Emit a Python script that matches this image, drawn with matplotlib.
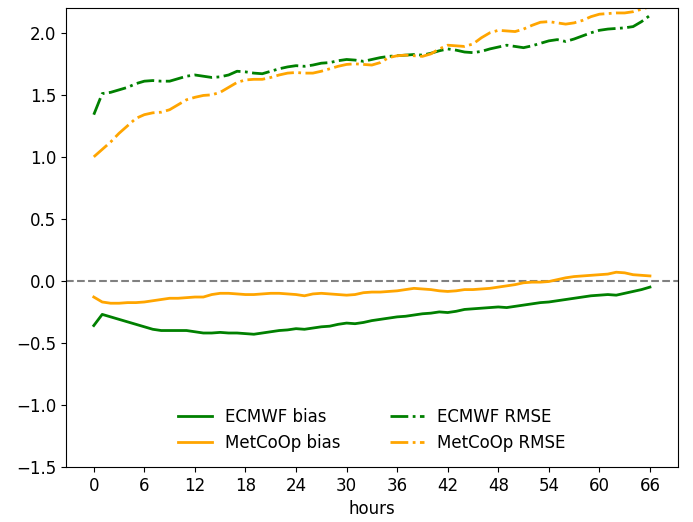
import matplotlib
matplotlib.use("Agg")
import matplotlib.pyplot as plt
import numpy as np

hours = list(range(0, 67))

ecmwf_bias = [-0.36, -0.27, -0.29, -0.31, -0.33, -0.35, -0.37, -0.39, -0.40, -0.40,
              -0.40, -0.40, -0.41, -0.42, -0.42, -0.415, -0.42, -0.42, -0.425, -0.43,
              -0.42, -0.41, -0.40, -0.395, -0.385, -0.39, -0.38, -0.37, -0.365, -0.35,
              -0.34, -0.345, -0.335, -0.32, -0.31, -0.30, -0.29, -0.285, -0.275, -0.265,
              -0.26, -0.25, -0.255, -0.245, -0.23, -0.225, -0.22, -0.215, -0.21, -0.215,
              -0.205, -0.195, -0.185, -0.175, -0.17, -0.16, -0.15, -0.14, -0.13, -0.12,
              -0.115, -0.11, -0.115, -0.10, -0.085, -0.07, -0.05]

metcoop_bias = [-0.13, -0.17, -0.18, -0.18, -0.175, -0.175, -0.17, -0.16, -0.15, -0.14,
                -0.14, -0.135, -0.13, -0.13, -0.11, -0.10, -0.10, -0.105, -0.11, -0.11,
                -0.105, -0.10, -0.10, -0.105, -0.11, -0.12, -0.105, -0.10, -0.105, -0.11,
                -0.115, -0.11, -0.095, -0.09, -0.09, -0.085, -0.08, -0.07, -0.06, -0.065,
                -0.07, -0.08, -0.085, -0.08, -0.07, -0.07, -0.065, -0.06, -0.05, -0.04,
                -0.03, -0.015, -0.01, -0.01, -0.005, 0.01, 0.025, 0.035, 0.04, 0.045,
                0.05, 0.055, 0.07, 0.065, 0.05, 0.045, 0.04]

ecmwf_rmse = [1.34, 1.51, 1.52, 1.54, 1.56, 1.59, 1.61, 1.615, 1.61, 1.61,
              1.63, 1.65, 1.66, 1.65, 1.64, 1.645, 1.66, 1.69, 1.685, 1.675,
              1.67, 1.69, 1.71, 1.725, 1.735, 1.73, 1.74, 1.755, 1.76, 1.775,
              1.785, 1.78, 1.77, 1.785, 1.80, 1.81, 1.815, 1.82, 1.825, 1.82,
              1.835, 1.855, 1.87, 1.86, 1.845, 1.84, 1.85, 1.87, 1.885, 1.90,
              1.89, 1.88, 1.895, 1.915, 1.935, 1.945, 1.93, 1.95, 1.975, 2.00,
              2.02, 2.03, 2.035, 2.04, 2.05, 2.09, 2.14]

metcoop_rmse = [1.00, 1.06, 1.12, 1.19, 1.25, 1.31, 1.34, 1.355, 1.36, 1.38,
                1.42, 1.46, 1.48, 1.495, 1.50, 1.52, 1.56, 1.60, 1.62, 1.625,
                1.625, 1.64, 1.66, 1.675, 1.68, 1.675, 1.675, 1.69, 1.71, 1.73,
                1.745, 1.75, 1.745, 1.74, 1.76, 1.80, 1.815, 1.82, 1.815, 1.81,
                1.83, 1.87, 1.90, 1.895, 1.89, 1.91, 1.96, 2.00, 2.02, 2.015,
                2.01, 2.03, 2.06, 2.085, 2.09, 2.08, 2.07, 2.08, 2.10, 2.13,
                2.15, 2.155, 2.16, 2.16, 2.17, 2.19, 2.21]

xticks = list(range(0, 67, 6))
yticks = [-1.5, -1.0, -0.5, 0.0, 0.5, 1.0, 1.5, 2.0]

plt.rcParams["font.size"] = 12

fig = plt.figure(figsize=(6.93, 5.22), dpi=100)
ax = fig.add_axes([0.0952, 0.1054, 0.978 - 0.0952, 0.9847 - 0.1054])

ax.axhline(0, color="gray", linestyle="--", linewidth=1.5)
ax.plot(hours, ecmwf_bias, color="green", linestyle="-", linewidth=2, label="ECMWF bias")
ax.plot(hours, metcoop_bias, color="orange", linestyle="-", linewidth=2, label="MetCoOp bias")
ax.plot(hours, ecmwf_rmse, color="green", linestyle="-.", linewidth=2, label="ECMWF RMSE")
ax.plot(hours, metcoop_rmse, color="orange", linestyle="-.", linewidth=2, label="MetCoOp RMSE")

ax.set_ylim(-1.5, 2.2)
ax.set_xticks(xticks)
ax.set_yticks(yticks)
ax.tick_params(labelsize=12)
ax.set_xlabel("hours", fontsize=12)
ax.legend(loc="lower center", ncol=2, frameon=False, fontsize=12, columnspacing=3.0)

fig.savefig("out.png", dpi=100)
